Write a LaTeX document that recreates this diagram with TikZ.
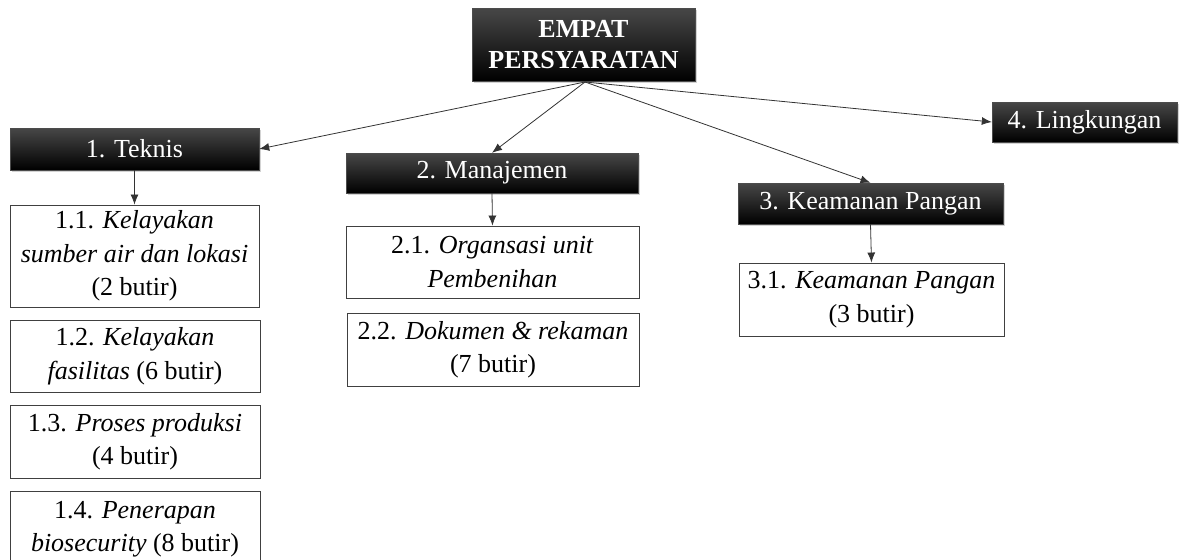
\documentclass[tikz,border=0pt]{standalone}
\usepackage{fontspec}
\setmainfont{Liberation Serif}
\usetikzlibrary{shadows,arrows.meta}

\begin{document}
\begin{tikzpicture}[x=1pt,y=-1pt]
\tikzstyle{head}=[rectangle, top color=black!72, middle color=black, bottom color=black, draw=black!70, text=white, inner sep=0pt, align=center, drop shadow={opacity=0.35, shadow xshift=1.5pt, shadow yshift=-2pt}, font=\fontsize{26}{31}\selectfont]
\tikzstyle{item}=[rectangle, draw=black!75, line width=0.9pt, fill=white, inner sep=0pt, align=center, font=\fontsize{26}{33.5}\selectfont]
\tikzstyle{link}=[draw=black!80, line width=0.8pt, -{Latex[length=10pt,width=8pt]}]

\useasboundingbox (0,0) rectangle (1187,560);

% top
\node (top) at (583.5,44.5) [head, minimum width=223pt, minimum height=73pt] {\bfseries EMPAT\\\bfseries PERSYARATAN};

% heads
\node (teknis) at (134.5,149) [head, minimum width=249pt, minimum height=42pt] {1. Teknis};
\node (manajemen) at (492,173) [head, minimum width=292pt, minimum height=40pt] {2. Manajemen};
\node (keamanan) at (870.5,203.5) [head, minimum width=265pt, minimum height=41pt] {3. Keamanan Pangan};
\node (lingkungan) at (1084.5,122) [head, minimum width=185pt, minimum height=40pt] {4. Lingkungan};

% items
\node (t1) at (134.5,256) [item, minimum width=249pt, minimum height=102pt] {1.1. \textit{Kelayakan}\\\textit{sumber air dan lokasi}\\(2 butir)};
\node (t2) at (135,356) [item, minimum width=250pt, minimum height=72pt] {1.2. \textit{Kelayakan}\\\textit{fasilitas} (6 butir)};
\node (t3) at (135,441.5) [item, minimum width=250pt, minimum height=73pt] {1.3. \textit{Proses produksi}\\(4 butir)};
\node (t4) at (135,529) [item, minimum width=250pt, minimum height=76pt] {1.4. \textit{Penerapan}\\\textit{biosecurity} (8 butir)};
\node (m1) at (492.5,262) [item, minimum width=293pt, minimum height=72pt] {2.1. \textit{Organsasi unit}\\\textit{Pembenihan}};
\node (m2) at (493,349.5) [item, minimum width=292pt, minimum height=73pt] {2.2. \textit{Dokumen \& rekaman}\\(7 butir)};
\node (k1) at (871.5,299.5) [item, minimum width=265pt, minimum height=73pt] {3.1. \textit{Keamanan Pangan}\\(3 butir)};

\coordinate (fan) at (585,82);
\draw [link] (fan) -- (teknis.east);
\draw [link] (fan) -- (manajemen.north);
\draw [link] (fan) -- (keamanan.north);
\draw [link] (fan) -- (lingkungan.west);

\draw [link] (teknis.south) -- (t1.north);
\draw [link] (manajemen.south) -- (m1.north);
\draw [link] (keamanan.south) -- (k1.north);
\end{tikzpicture}
\end{document}
